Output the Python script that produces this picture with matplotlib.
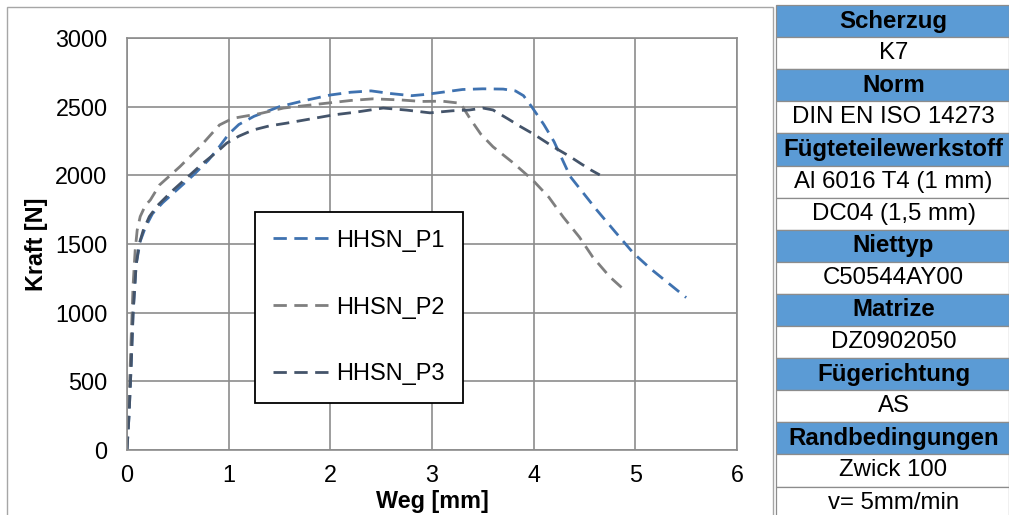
import matplotlib
matplotlib.use("Agg")
import matplotlib.pyplot as plt
from matplotlib.patches import Rectangle

plt.rcParams['font.family'] = ['Liberation Sans', 'DejaVu Sans']

# Scherzug K7: Kraft-Weg-Kurven
weg_p1 = [0, 0.02, 0.04, 0.06, 0.09, 0.13, 0.18, 0.25, 0.35, 0.5, 0.65, 0.8, 0.9, 1.0,
          1.1, 1.25, 1.5, 1.75, 2.0, 2.2, 2.4, 2.6, 2.8, 2.95, 3.1, 3.3, 3.5, 3.7, 3.82,
          3.9, 3.98, 4.1, 4.2, 4.36, 4.5, 4.62, 4.8, 4.98, 5.15, 5.3, 5.5]
kraft_p1 = [0, 250, 600, 1000, 1350, 1520, 1620, 1720, 1800, 1900, 2000, 2110, 2200, 2300,
            2370, 2430, 2500, 2545, 2585, 2605, 2615, 2595, 2580, 2590, 2605, 2625, 2630, 2628, 2615,
            2580, 2500, 2370, 2246, 1991, 1860, 1748, 1590, 1434, 1320, 1230, 1110]

weg_p2 = [0, 0.02, 0.04, 0.06, 0.08, 0.1, 0.13, 0.18, 0.23, 0.32, 0.52, 0.72, 0.91, 1.04,
          1.31, 1.54, 1.9, 2.2, 2.42, 2.69, 2.9, 3.1, 3.28, 3.37, 3.48, 3.6, 3.8, 3.99,
          4.15, 4.29, 4.45, 4.58, 4.75, 4.88, 4.92]
kraft_p2 = [0, 350, 800, 1200, 1450, 1600, 1700, 1780, 1821, 1930, 2063, 2210, 2367, 2415,
            2450, 2490, 2520, 2545, 2557, 2549, 2538, 2540, 2525, 2418, 2300, 2208, 2090, 1966,
            1840, 1697, 1550, 1406, 1260, 1173, 1155]

weg_p3 = [0, 0.02, 0.04, 0.06, 0.09, 0.12, 0.16, 0.22, 0.3, 0.45, 0.6, 0.75, 0.9, 0.98,
          1.1, 1.24, 1.4, 1.57, 1.8, 2.03, 2.25, 2.52, 2.75, 2.98, 3.2, 3.37, 3.5, 3.6,
          3.75, 3.87, 4.0, 4.19, 4.35, 4.46, 4.56, 4.65]
kraft_p3 = [0, 250, 600, 1000, 1350, 1500, 1600, 1700, 1780, 1890, 1990, 2090, 2180, 2234,
            2285, 2330, 2360, 2380, 2410, 2440, 2460, 2490, 2475, 2455, 2470, 2476, 2490, 2476,
            2410, 2355, 2300, 2209, 2140, 2087, 2040, 2003]

series_labels = ["HHSN_P1", "HHSN_P2", "HHSN_P3"]
series_colors = ["#3F72B0", "#7F7F7F", "#44546A"]

x_ticks = [0, 1, 2, 3, 4, 5, 6]
y_ticks = [0, 500, 1000, 1500, 2000, 2500, 3000]

# Versuchsparameter: (Text, Kopfzeile?)
table_rows = [
    ("Scherzug", True), ("K7", False),
    ("Norm", True), ("DIN EN ISO 14273", False),
    ("Fügteteilewerkstoff", True), ("Al 6016 T4 (1 mm)", False), ("DC04 (1,5 mm)", False),
    ("Niettyp", True), ("C50544AY00", False),
    ("Matrize", True), ("DZ0902050", False),
    ("Fügerichtung", True), ("AS", False),
    ("Randbedingungen", True), ("Zwick 100", False), ("v= 5mm/min", False),
]

W, H = 1009, 515
fig = plt.figure(figsize=(W / 100, H / 100), dpi=100)


def fx(x):
    return x / W


def fy(y):
    return 1 - y / H


grid_col = "#8C8C8C"
ax = fig.add_axes([fx(127), fy(450), fx(737) - fx(127), fy(38) - fy(450)])
ax.set_xlim(0, 6)
ax.set_ylim(0, 3000)
ax.set_xticks(x_ticks)
ax.set_yticks(y_ticks)
ax.grid(True, color=grid_col, linewidth=1.2)
ax.set_axisbelow(True)
for sp in ax.spines.values():
    sp.set_color(grid_col)
    sp.set_linewidth(1.2)
ax.tick_params(length=0, labelsize=16.8, colors="black")
ax.tick_params(axis="y", pad=14)
ax.tick_params(axis="x", pad=10)

dash = (0, (4.8, 2.7))
for wx, ky, lab, col in zip([weg_p1, weg_p2, weg_p3], [kraft_p1, kraft_p2, kraft_p3],
                            series_labels, series_colors):
    ax.plot(wx, ky, color=col, linewidth=2.0, linestyle=dash, label=lab,
            dash_capstyle="butt")

ax.set_xlabel("Weg [mm]", fontsize=16.8, fontweight="bold", labelpad=2)
ax.set_ylabel("Kraft [N]", fontsize=16.8, fontweight="bold", labelpad=5)

leg = ax.legend(loc="upper left", bbox_to_anchor=(fx(255), fy(212)),
                bbox_transform=fig.transFigure, borderaxespad=0,
                fontsize=17, frameon=True, fancybox=False, framealpha=1,
                edgecolor="black", handlelength=2.45, handletextpad=0.25,
                labelspacing=1.9, borderpad=0.75)
leg.get_frame().set_linewidth(1.3)

# Rahmen des Diagrammbereichs
fig.add_artist(Rectangle((fx(7), fy(520)), fx(773) - fx(7), fy(7) - fy(520),
                         transform=fig.transFigure, fill=False,
                         edgecolor="#A6A6A6", linewidth=1.0))

# Parametertabelle
tx0, tx1 = 776, 1009
row_top = 5
row_h = 32.1
for i, (txt, head) in enumerate(table_rows):
    y0 = row_top + i * row_h
    fig.add_artist(Rectangle((fx(tx0), fy(y0 + row_h)), fx(tx1) - fx(tx0), row_h / H,
                             transform=fig.transFigure,
                             facecolor="#5B9BD5" if head else "white",
                             edgecolor="#8C8C8C", linewidth=0.9))
    fig.text(fx((tx0 + tx1) / 2 + 1), fy(y0 + row_h / 2), txt,
             ha="center", va="center", fontsize=17.3,
             fontweight="bold" if head else "normal", color="black")

fig.savefig("out.png", dpi=100)
